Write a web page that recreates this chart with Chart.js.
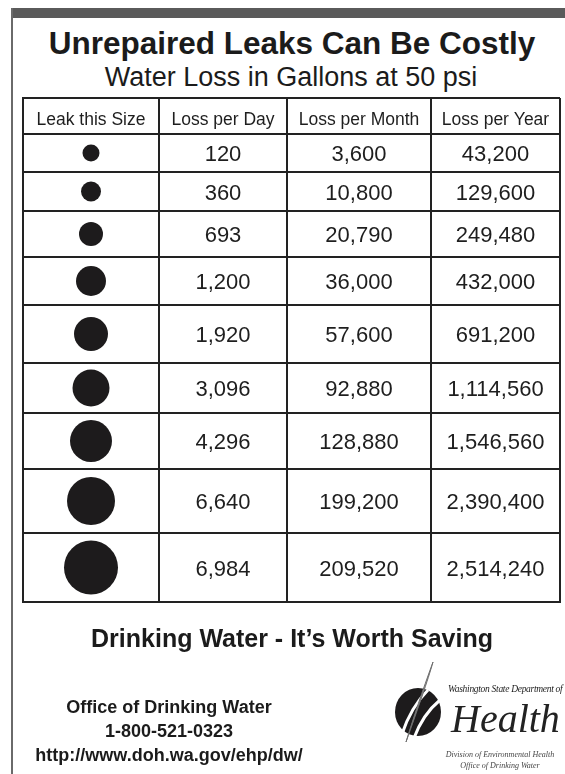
<!DOCTYPE html>
<html>
<head>
<meta charset="utf-8">
<title>Unrepaired Leaks Can Be Costly</title>
<script src="https://cdn.jsdelivr.net/npm/chart.js@4/dist/chart.umd.min.js"></script>
<style>
  html, body { margin: 0; padding: 0; background: #fff; }
  body { width: 565px; height: 774px; position: relative; overflow: hidden;
         font-family: "Liberation Sans", Arial, sans-serif; color: #1b1b1b; }
  .frame-top  { position: absolute; left: 11px; top: 8px; width: 554px; height: 10px; background: #5a5a5a; }
  .frame-left { position: absolute; left: 11px; top: 8px; width: 2px; height: 766px; background: #6a6a6a; }
  .t { position: absolute; white-space: nowrap; text-align: center; line-height: 1; width: 600px; }
  .serif { font-family: "Liberation Serif", "Times New Roman", serif; font-style: italic; }
  #chart { position: absolute; left: 0; top: 0; }
</style>
</head>
<body>
<div class="frame-top"></div>
<div class="frame-left"></div>

<div class="t" style="left:-8px; top:28px; font-size:31.5px; font-weight:bold;">Unrepaired Leaks Can Be Costly</div>
<div class="t" style="left:-9px; top:64px; font-size:27px;">Water Loss in Gallons at 50 psi</div>

<canvas id="chart" width="565" height="774"></canvas>

<div class="t" style="left:-8px; top:626px; font-size:25px; font-weight:bold;">Drinking Water - It’s Worth Saving</div>
<div class="t" style="left:-131px; top:695px; font-size:18px; font-weight:bold; line-height:24px;">
  Office of Drinking Water<br>1-800-521-0323<br>http://www.doh.wa.gov/ehp/dw/
</div>

<!-- logo -->
<svg style="position:absolute; left:388px; top:660px;" width="60" height="86" viewBox="0 0 60 86">
  <ellipse cx="30" cy="52" rx="23" ry="24" fill="#1d1b1c"/>
  <path d="M14 74 C 20 56, 28 42, 40 30" stroke="#fff" stroke-width="3" fill="none"/>
  <path d="M26 78 C 32 62, 40 50, 52 40" stroke="#fff" stroke-width="3" fill="none"/>
  <path d="M45 2 C 40 20, 30 48, 18 82 C 26 56, 34 32, 45 2 Z" fill="#a0a0a0" stroke="#6e6e6e" stroke-width="1"/>
</svg>
<div class="serif" style="position:absolute; left:448px; top:685px; font-size:9.5px; line-height:1; letter-spacing:-0.3px; white-space:nowrap;">Washington State Department of</div>
<div class="serif" style="position:absolute; left:451px; top:699px; font-size:40px; line-height:1; color:#222;">Health</div>
<div class="t serif" style="left:200px; top:749px; font-size:8px; line-height:11px; color:#444;">
  Division of Environmental Health<br>Office of Drinking Water
</div>

<script>
// 表の中身
const headers      = ['Leak this Size', 'Loss per Day', 'Loss per Month', 'Loss per Year'];
const leakSize     = [8.5, 10, 12, 15, 17, 18.5, 21, 24, 27];   // 穴の大きさ(印刷された点の半径)
const lossPerDay   = [120, 360, 693, 1200, 1920, 3096, 4296, 6640, 6984];
const lossPerMonth = [3600, 10800, 20790, 36000, 57600, 92880, 128880, 199200, 209520];
const lossPerYear  = [43200, 129600, 249480, 432000, 691200, 1114560, 1546560, 2390400, 2514240];

// 表のレイアウト(表の左上からの px)
const colEdges = [0, 136, 264, 408, 537];
const rowEdges = [0, 36, 74, 113, 159, 207, 265, 315, 371, 435, 504];

const mid = (edges, i) => (edges[i] + edges[i + 1]) / 2;

// セルの文字を描く
const cellText = {
  id: 'cellText',
  afterDatasetsDraw(chart) {
    const { ctx, scales: { x, y } } = chart;
    ctx.save();
    ctx.fillStyle = '#1e1e1e';
    ctx.textAlign = 'center';
    ctx.textBaseline = 'alphabetic';

    ctx.font = '17.5px "Liberation Sans", Arial, sans-serif';
    headers.forEach((h, c) => {
      ctx.fillText(h, x.getPixelForValue(mid(colEdges, c)), y.getPixelForValue(mid(rowEdges, 0)) + 9);
    });

    ctx.font = '22px "Liberation Sans", Arial, sans-serif';
    [lossPerDay, lossPerMonth, lossPerYear].forEach((col, c) => {
      col.forEach((v, i) => {
        ctx.fillText(v.toLocaleString('en-US'),
          x.getPixelForValue(mid(colEdges, c + 1)),
          y.getPixelForValue(mid(rowEdges, i + 1)) + 8);
      });
    });
    ctx.restore();
  }
};

const gridAxis = (edges) => ({
  type: 'linear',
  min: edges[0],
  max: edges[edges.length - 1],
  afterBuildTicks: scale => { scale.ticks = edges.map(v => ({ value: v })); },
  ticks: { display: false },
  grid: { color: '#222', lineWidth: 2, drawTicks: false },
  border: { color: '#222', width: 2 }
});

new Chart(document.getElementById('chart'), {
  type: 'bubble',
  data: {
    datasets: [{
      data: leakSize.map((r, i) => ({ x: mid(colEdges, 0), y: mid(rowEdges, i + 1), r })),
      backgroundColor: '#1d1b1c',
      borderWidth: 0,
      hoverRadius: 0
    }]
  },
  options: {
    responsive: false,
    animation: false,
    events: [],
    layout: { autoPadding: false, padding: { left: 23, top: 98, right: 5, bottom: 172 } },
    plugins: { legend: { display: false }, tooltip: { enabled: false } },
    scales: {
      x: gridAxis(colEdges),
      y: Object.assign(gridAxis(rowEdges), { reverse: true })
    }
  },
  plugins: [cellText]
});
</script>
</body>
</html>
